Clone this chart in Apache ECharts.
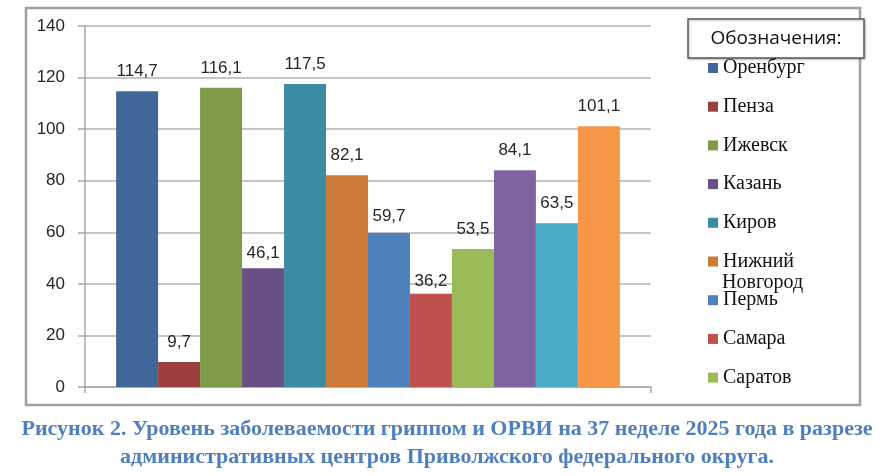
<!DOCTYPE html>
<html>
<head>
<meta charset="utf-8">
<script src="https://cdn.jsdelivr.net/npm/echarts@6/dist/echarts.min.js"></script>
<style>
	html,body{margin:0;padding:0;background:#fff;}
	#main{width:894px;height:476px;}
</style>
</head>
<body>
<div id="main"></div>
<script>
// города (последние три в легенде не видны)
var cities = ['Оренбург','Пенза','Ижевск','Казань','Киров','Нижний Новгород','Пермь','Самара','Саратов','Ульяновск','Уфа','Чебоксары'];
var values = [114.7, 9.7, 116.1, 46.1, 117.5, 82.1, 59.7, 36.2, 53.5, 84.1, 63.5, 101.1];
var colors = ['#3F6899','#9C403D','#7F9A48','#684F86','#3B8CA3','#CC7A38','#4F81BD','#C0504D','#9BBB59','#8064A2','#4BACC6','#F79646'];
var legendNames = cities.slice(0, 9);
var yTicks = {min: 0, max: 140, step: 20};
var caption = 'Рисунок 2. Уровень заболеваемости гриппом и ОРВИ на 37 неделе 2025 года в разрезе\nадминистративных центров Приволжского федерального округа.';

// подписи соседних столбцов в оригинале прижаты ниже
var labelDist = {'Казань': 6, 'Пермь': 8, 'Самара': 4};

var myChart = echarts.init(document.getElementById('main'));

var series = [];
for(var i=0;i<cities.length;i++){
	series.push({
		name: cities[i],
		type: 'bar',
		data: [values[i]],
		barGap: '0%',
		barCategoryGap: '11%',
		itemStyle: {color: colors[i]},
		label: {
			show: true,
			position: 'top',
			distance: labelDist[cities[i]] != null ? labelDist[cities[i]] : 11,
			fontFamily: 'Liberation Sans',
			fontSize: 17,
			color: '#262626',
			formatter: function(p){ return String(p.value).replace('.', ','); }
		}
	});
}

var option = {
	animation: false,
	title: {
		text: caption,
		left: 'center',
		top: 410,
		textStyle: {
			fontFamily: 'Liberation Serif',
			fontWeight: 'bold',
			fontSize: 22,
			lineHeight: 28,
			color: '#4F7FBE'
		}
	},
	grid: {left: 85, right: 243, top: 26, bottom: 89},
	xAxis: {
		type: 'category',
		data: [''],
		axisLine: {lineStyle: {color: '#A6A6A6', width: 1.5}},
		axisTick: {show: true, length: 6, lineStyle: {color: '#A6A6A6', width: 1.5}},
		axisLabel: {show: false}
	},
	yAxis: {
		type: 'value',
		min: yTicks.min,
		max: yTicks.max,
		interval: yTicks.step,
		axisLine: {show: true, lineStyle: {color: '#A6A6A6', width: 1.5}},
		axisTick: {show: true, length: 7, lineStyle: {color: '#A6A6A6', width: 1.5}},
		splitLine: {lineStyle: {color: '#B3B3B3', width: 1.5}},
		axisLabel: {margin: 20, fontFamily: 'Liberation Sans', fontSize: 17, color: '#262626'}
	},
	legend: {
		data: legendNames,
		orient: 'vertical',
		left: 708,
		top: 57,
		padding: 0,
		itemWidth: 10,
		itemHeight: 10,
		itemGap: 16.7,
		icon: 'rect',
		selectedMode: false,
		// вторая строка "Новгород" дописана отдельным текстом ниже
		formatter: function(name){ return name.split(' ')[0]; },
		textStyle: {
			fontFamily: 'Liberation Serif',
			fontSize: 20,
			color: '#111',
			lineHeight: 22
		}
	},
	graphic: [
		{
			type: 'rect',
			z: 0,
			silent: true,
			shape: {x: 26, y: 8, width: 834, height: 397},
			style: {fill: 'none', stroke: '#A0A0A0', lineWidth: 2.5}
		},
		{
			type: 'text',
			z: 50,
			silent: true,
			style: {x: 722, y: 283, text: 'Новгород', verticalAlign: 'middle',
				font: '20px "Liberation Serif"', fill: '#111'}
		},
		{
			type: 'group',
			z: 100,
			children: [
				{
					type: 'rect',
					shape: {x: 688, y: 19, width: 176, height: 39},
					style: {fill: '#fff', stroke: '#595959', lineWidth: 1.5,
						shadowColor: 'rgba(0,0,0,0.25)', shadowBlur: 2, shadowOffsetX: 1, shadowOffsetY: 1}
				},
				{
					type: 'text',
					style: {x: 776, y: 39, text: 'Обозначения:', align: 'center', verticalAlign: 'middle',
						font: '19px "Open Sans"', fill: '#111'}
				}
			]
		}
	],
	series: series
};

myChart.setOption(option);
</script>
</body>
</html>
